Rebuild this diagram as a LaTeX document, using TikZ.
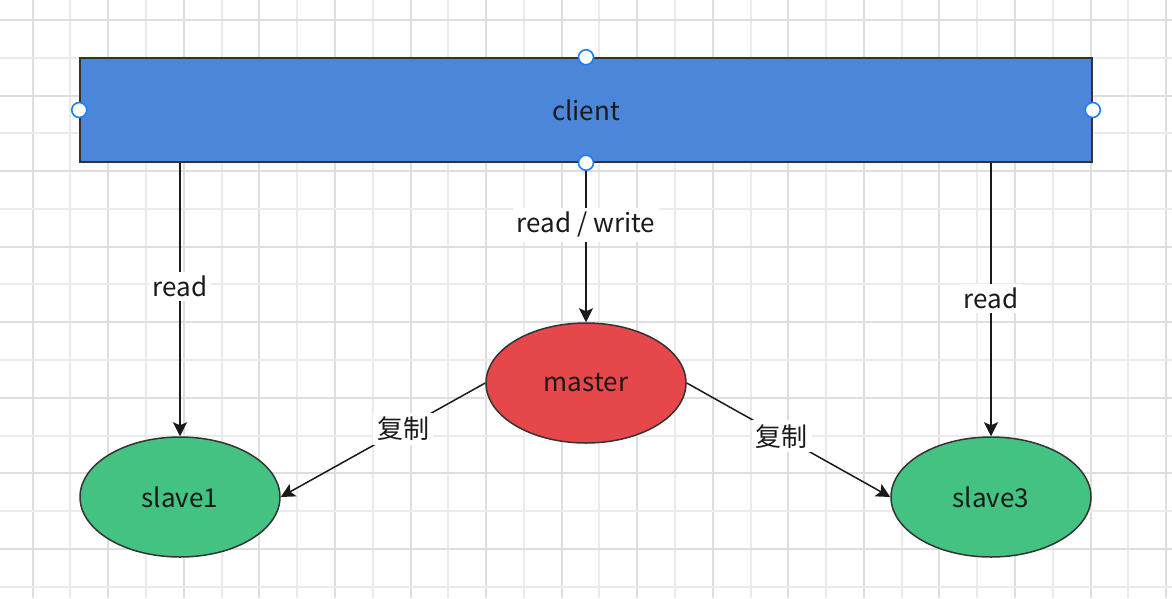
\documentclass[tikz,border=0pt]{standalone}
\usepackage{fontspec}
\setmainfont{Noto Sans CJK SC}
\usetikzlibrary{arrows.meta,shapes.geometric}
\definecolor{gridA}{HTML}{DEDEDE}
\definecolor{gridB}{HTML}{EBEBEB}
\definecolor{clientblue}{HTML}{4C86D9}
\definecolor{masterred}{HTML}{E5474B}
\definecolor{slavegreen}{HTML}{43C282}
\definecolor{handleblue}{HTML}{1A7FFF}
\definecolor{edgecol}{HTML}{1A1A1A}
\definecolor{bordercol}{HTML}{333333}
\tikzset{
  txt/.style={font=\fontsize{26}{30}\selectfont, text=edgecol},
  shapebox/.style={draw=bordercol, line width=1.5pt, txt},
  ell/.style={shapebox, ellipse, minimum width=200pt, minimum height=120pt, inner sep=0pt},
  handle/.style={circle, draw=handleblue, fill=white, line width=1.6pt, minimum size=15pt, inner sep=0pt},
  conn/.style={draw=edgecol, line width=1.5pt, -{Stealth[length=14pt,width=14pt,inset=3pt]}},
  lbl/.style={fill=white, inner sep=4pt, txt}
}
\begin{document}
\begin{tikzpicture}[x=1pt,y=-1pt]
\useasboundingbox (0,0) rectangle (1172,598);
% grid
\foreach \i in {0,...,30} {
  \pgfmathsetmacro{\gx}{32.7+\i*37.78}
  \pgfmathparse{mod(\i,2)==0 ? 1 : 0}
  \ifnum\pgfmathresult=1
    \draw[gridA, line width=2pt] (\gx,0) -- (\gx,598);
  \else
    \draw[gridB, line width=2pt] (\gx,0) -- (\gx,598);
  \fi
}
\foreach \j in {-1,...,15} {
  \pgfmathsetmacro{\gy}{20+\j*37.78}
  \pgfmathparse{mod(\j+2,2)==0 ? 1 : 0}
  \ifnum\pgfmathresult=1
    \draw[gridA, line width=2pt] (0,\gy) -- (1172,\gy);
  \else
    \draw[gridB, line width=2pt] (0,\gy) -- (1172,\gy);
  \fi
}
% nodes
\node[shapebox, fill=clientblue, minimum width=1012pt, minimum height=104pt, inner sep=0pt] (client) at (586,110) {client};
\node[ell, fill=masterred] (master) at (586,383) {master};
\node[ell, fill=slavegreen] (slave1) at (180,497) {slave1};
\node[ell, fill=slavegreen] (slave3) at (991,497) {slave3};
% connectors
\draw[conn] (client.south -| slave1.north) -- node[lbl, pos=0.453] {read} (slave1.north);
\draw[conn] (client.south) -- node[lbl, pos=0.39] {read / write} (master.north);
\draw[conn] (client.south -| slave3.north) -- node[lbl, pos=0.496] {read} (slave3.north);
\draw[conn] (master.west) -- node[lbl, pos=0.40] {复制} (slave1.east);
\draw[conn] (master.east) -- node[lbl, pos=0.466] {复制} (slave3.west);
% selection handles
\node[handle] (hN) at (client.north) {};
\node[handle] (hW) at (client.west) {};
\node[handle] (hE) at (client.east) {};
\node[handle] (hS) at (client.south) {};
\end{tikzpicture}
\end{document}
